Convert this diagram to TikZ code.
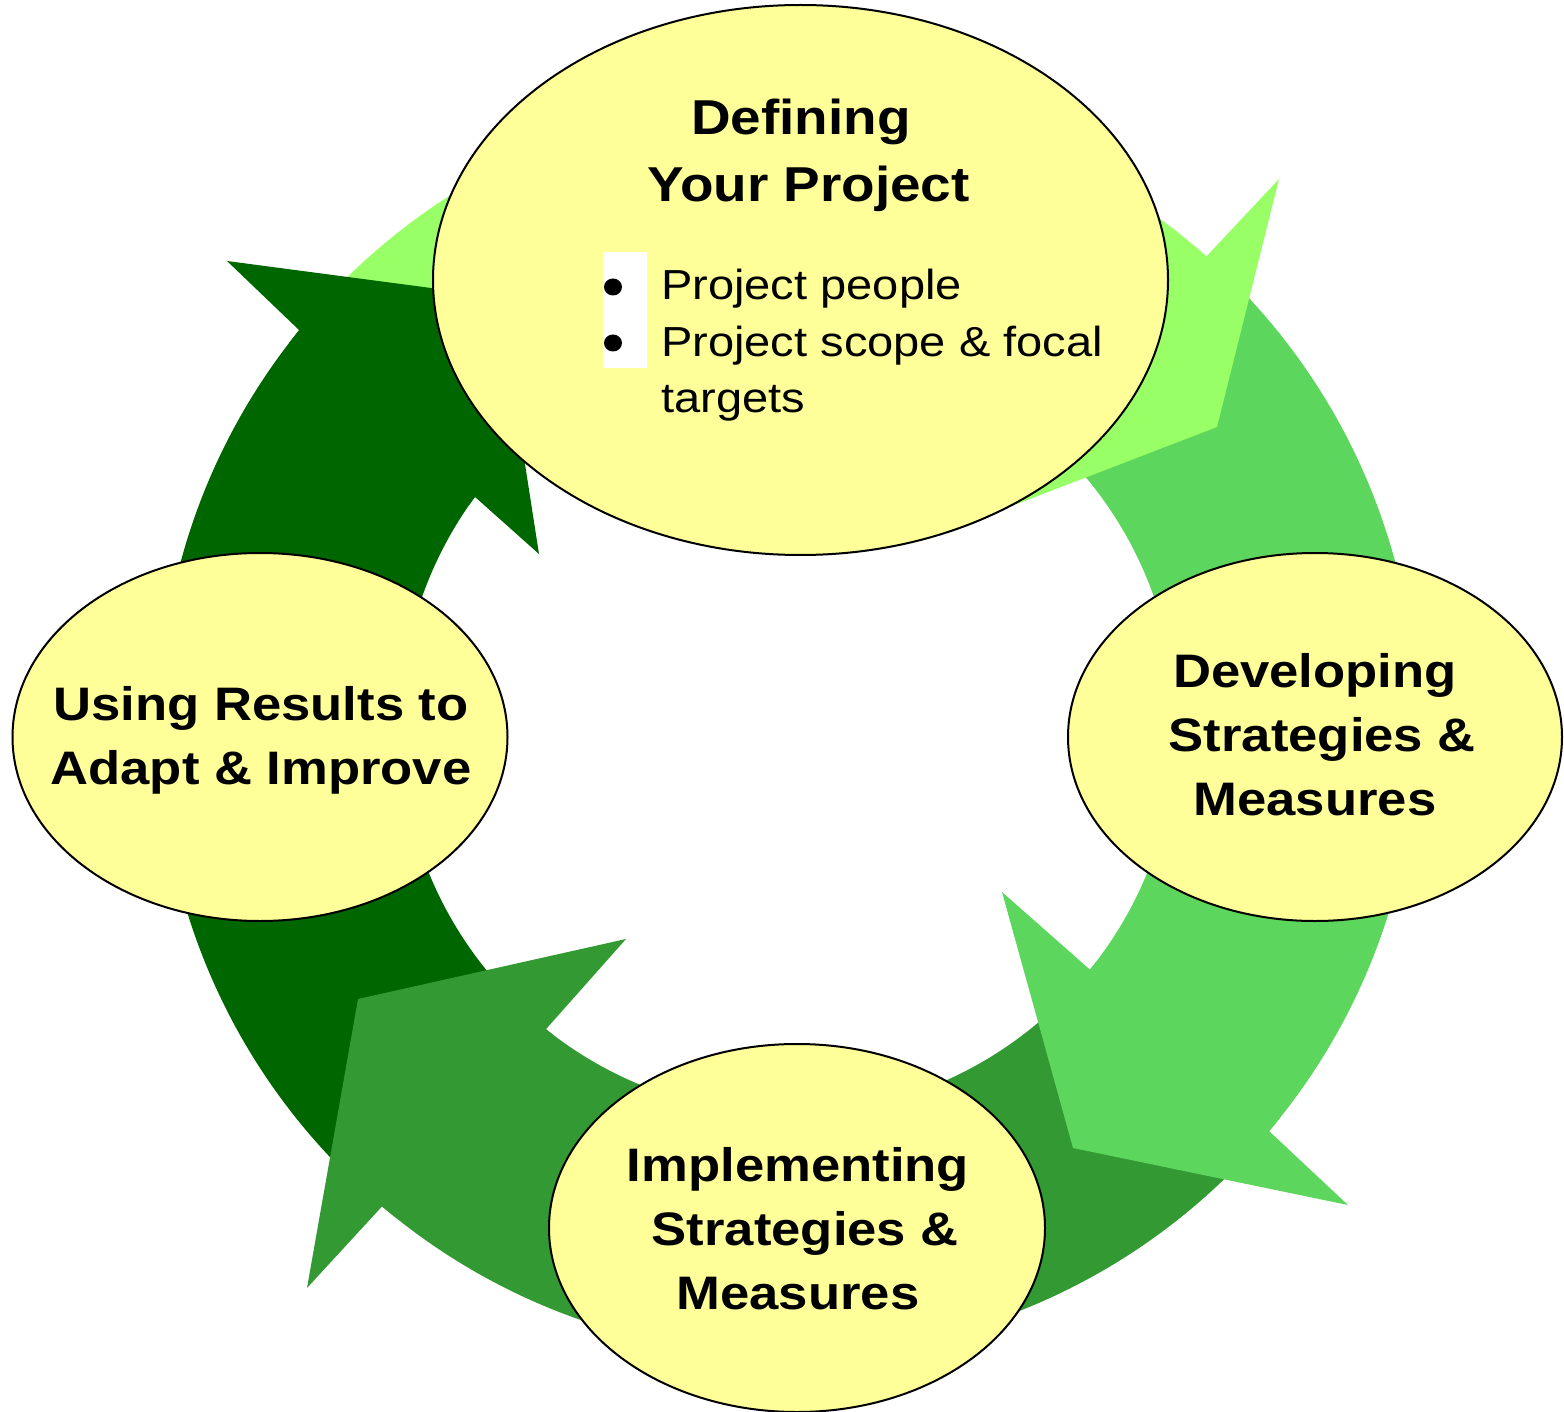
\documentclass[tikz,border=0pt]{standalone}
\usepackage{fontspec}
\setmainfont{Liberation Sans}[FakeStretch=1.12]
\usetikzlibrary{calc,shapes.geometric}
\definecolor{ellfill}{HTML}{FFFF99}
\definecolor{gLight}{HTML}{99FF66}
\definecolor{gMed}{HTML}{5CD65C}
\definecolor{gMid}{HTML}{339933}
\definecolor{gDark}{HTML}{006600}
\begin{document}
\begin{tikzpicture}[x=1pt,y=1pt,
  stage/.style={ellipse, draw=black, line width=2pt, fill=ellfill, inner sep=0pt},
  title/.style={font=\bfseries\fontsize{47}{64}\selectfont, inner sep=0pt, anchor=base},
  bodytxt/.style={font=\fontsize{42}{56.5}\selectfont, inner sep=0pt, anchor=base west}]
\useasboundingbox (0,0) rectangle (1564,-1412);
\coordinate (C) at (788,-726);

% ---- shafts ----
\fill[gLight] ($(C)+(139:629)$) arc[start angle=139,end angle=48.3,radius=629]
  -- ($(C)+(48.3:388)$) arc[start angle=48.3,end angle=139,radius=388] -- cycle;
\fill[gMed] ($(C)+(46.3:629)$) arc[start angle=46.3,end angle=-40.1,radius=629]
  -- ($(C)+(-38.9:388)$) arc[start angle=-38.9,end angle=46.3,radius=388] -- cycle;
\fill[gMid] ($(C)+(-42.1:629)$) arc[start angle=-42.1,end angle=-130.2,radius=629]
  -- ($(C)+(-128.6:388)$) arc[start angle=-128.6,end angle=-42.1,radius=388] -- cycle;
\fill[gDark] ($(C)+(227.8:629)$) arc[start angle=227.8,end angle=141,radius=629]
  -- ($(C)+(143.8:388)$) arc[start angle=143.8,end angle=227.8,radius=388] -- cycle;

% ---- heads ----
\fill[gLight] ($(C)+(49.8:629)$) -- ($(C)+(48.3:629)$) -- (1279,-179) -- (1217,-427)
  -- (978,-519) -- ($(C)+(48.3:388)$) -- ($(C)+(49.8:388)$) -- cycle;
\fill[gMed] ($(C)+(-38.6:629)$) -- ($(C)+(-40.1:629)$) -- (1348,-1205) -- (1073,-1148)
  -- (1002,-892) -- ($(C)+(-38.9:388)$) -- ($(C)+(-37.4:388)$) -- cycle;
\fill[gMid] ($(C)+(-128.7:629)$) -- ($(C)+(-130.2:629)$) -- (307,-1288) -- (358,-999)
  -- (626,-939) -- ($(C)+(-128.6:388)$) -- ($(C)+(-127.1:388)$) -- cycle;
\fill[gDark] ($(C)+(142.5:629)$) -- ($(C)+(141:629)$) -- (227,-261) -- (499,-297)
  -- (539,-554) -- ($(C)+(143.8:388)$) -- ($(C)+(145.3:388)$) -- cycle;

% ---- ellipses ----
\node[stage, minimum width=735pt, minimum height=550pt] (define) at (800.5,-280) {};
\node[stage, minimum width=494pt, minimum height=368pt] (develop) at (1315,-737) {};
\node[stage, minimum width=496pt, minimum height=368pt] (implement) at (797,-1228) {};
\node[stage, minimum width=495pt, minimum height=368pt] (adapt) at (260,-737) {};

% ---- texts ----
\node[title, font=\bfseries\fontsize{49}{67}\selectfont] (defineTxt) at (801,-135)
  {\begin{tabular}[t]{@{}c@{}}Defining\\ \mbox{}\ Your Project\end{tabular}};
\node[title] (developTxt) at (1315,-687)
  {\begin{tabular}[t]{@{}c@{}}Developing\\ \mbox{}\ Strategies \&\\ Measures\end{tabular}};
\node[title] (implementTxt) at (798,-1181)
  {\begin{tabular}[t]{@{}c@{}}Implementing\\ \mbox{}\ Strategies \&\\ Measures\end{tabular}};
\node[title] (adaptTxt) at (261,-720)
  {\begin{tabular}[t]{@{}c@{}}Using Results to\\ Adapt \& Improve\end{tabular}};

\fill[white] (603,-252) rectangle (647,-368);
\fill[black] (613,-287) ellipse[x radius=9, y radius=8.5];
\fill[black] (613,-343) ellipse[x radius=9, y radius=8.5];
\node[bodytxt] (bullets) at (661,-300)
  {\begin{tabular}[t]{@{}l@{}}Project people\\ Project scope \& focal\\ targets\end{tabular}};
\end{tikzpicture}
\end{document}
